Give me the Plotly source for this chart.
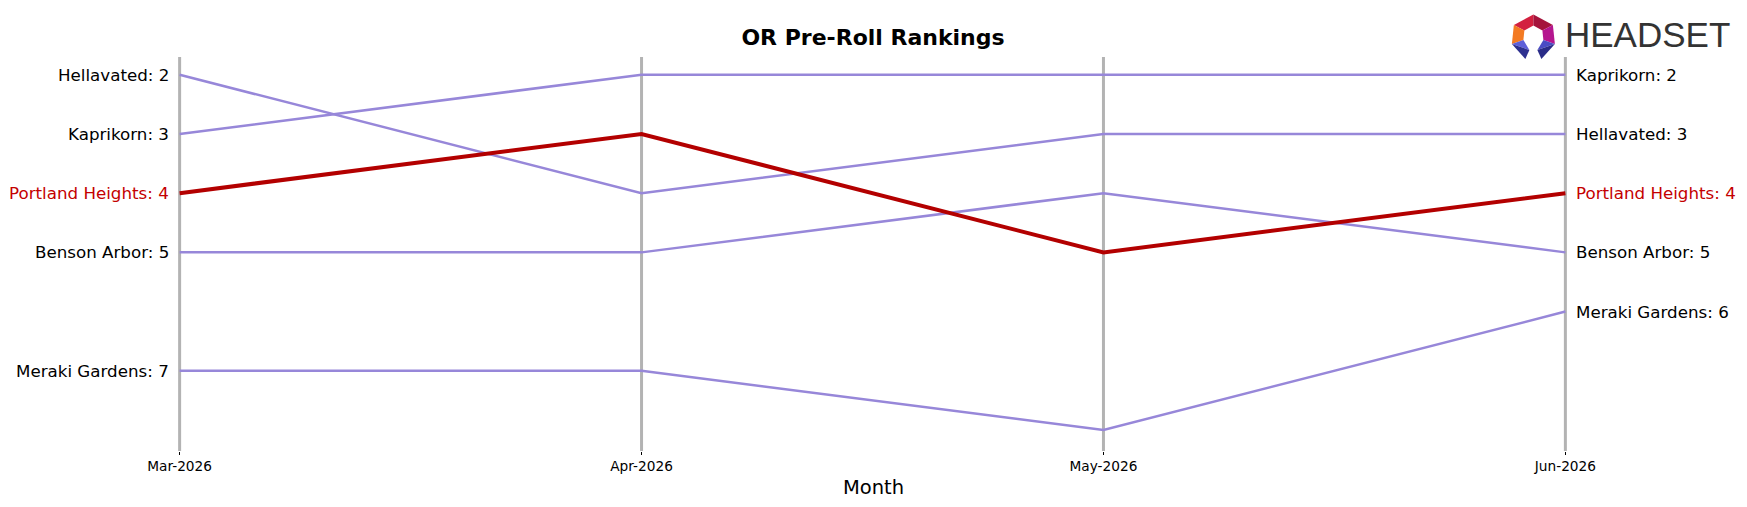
import plotly.graph_objects as go

months = ["Mar-2026", "Apr-2026", "May-2026", "Jun-2026"]
brands = ["Hellavated", "Kaprikorn", "Portland Heights", "Benson Arbor", "Meraki Gardens"]
ranks = {
    "Hellavated": [2, 4, 3, 3],
    "Kaprikorn": [3, 2, 2, 2],
    "Portland Heights": [4, 3, 5, 4],
    "Benson Arbor": [5, 5, 4, 5],
    "Meraki Gardens": [7, 7, 8, 6],
}
highlight = "Portland Heights"
title = "OR Pre-Roll Rankings"
x_title = "Month"

W, H = 1747, 507
PAD = 0.01
L, R, T, B = 175.4, 177.4, 57, 56
PW, PH = W - L - R, H - T - B

def px(x):
    return (x - L) / PW

def py(y):
    return (H - B - y) / PH

FONT = "DejaVu Sans, Verdana, sans-serif"
PURPLE = "#9787d9"
RED = "#b30000"
RED_TXT = "#c40000"

fig = go.Figure()
for b in brands:
    if b == highlight:
        continue
    fig.add_trace(go.Scatter(x=months, y=ranks[b], mode="lines",
                             line=dict(color=PURPLE, width=2.5), hoverinfo="skip", showlegend=False))
fig.add_trace(go.Scatter(x=months, y=ranks[highlight], mode="lines",
                         line=dict(color=RED, width=4), hoverinfo="skip", showlegend=False))

shapes = []
for m in months:
    shapes.append(dict(type="line", xref="x", yref="paper", x0=m, x1=m, y0=0, y1=1,
                       line=dict(color="#b3b3b3", width=3), layer="below"))

annotations = []
for b in brands:
    col = RED_TXT if b == highlight else "black"
    annotations.append(dict(x=months[0], y=ranks[b][0], xref="x", yref="y",
                            text=f"{b}: {ranks[b][0]}", showarrow=False, xanchor="right",
                            xshift=-9, font=dict(family=FONT, size=16.7, color=col)))
    annotations.append(dict(x=months[-1], y=ranks[b][-1], xref="x", yref="y",
                            text=f"{b}: {ranks[b][-1]}", showarrow=False, xanchor="left",
                            xshift=9, font=dict(family=FONT, size=16.7, color=col)))

annotations.append(dict(x=px(873), y=py(487), xref="paper", yref="paper", text=x_title,
                        showarrow=False, xanchor="center", yanchor="middle",
                        font=dict(family=FONT, size=19.5, color="black")))
annotations.append(dict(x=px(1563), y=py(35), xref="paper", yref="paper", text="HEADSET",
                        showarrow=False, xanchor="left", yanchor="middle",
                        font=dict(family="Liberation Sans, Arial, sans-serif",
                                  size=35, color="#333333")))

def poly(pts, color):
    d = "M " + " L ".join(f"{px(x):.5f},{py(y):.5f}" for x, y in pts) + " Z"
    return dict(type="path", xref="paper", yref="paper", path=d,
                fillcolor=color, line=dict(width=0), layer="above")

Tp, UL, UR, Lp, Rp = (1533, 14.5), (1513.5, 25), (1552.5, 25), (1511.5, 44), (1554.5, 44)
tp, ul, ur, lp, rp = (1533, 25.5), (1524, 30.5), (1542, 30.5), (1523, 40), (1543, 40)
shapes += [
    poly([Tp, tp, ul, UL], "#d3203f"),
    poly([Tp, UR, ur, tp], "#a5143c"),
    poly([UL, ul, lp, Lp], "#f37a22"),
    poly([UR, Rp, rp, ur], "#b5168f"),
    poly([Lp, lp, (1529, 50)], "#5d5fd8"),
    poly([Lp, (1529, 50), (1525, 59)], "#2e3190"),
    poly([Rp, rp, (1537, 50)], "#4a4cc4"),
    poly([Rp, (1537, 50), (1541, 59)], "#2a2c88"),
]

fig.update_layout(
    width=W, height=H,
    margin=dict(l=L, r=R, t=T, b=B, pad=0),
    paper_bgcolor="white", plot_bgcolor="white",
    title=dict(text=f"<b>{title}</b>", x=px(873), xref="paper", y=1 - 37 / H, yref="container",
               xanchor="center", yanchor="middle", font=dict(family=FONT, size=22, color="black")),
    xaxis=dict(type="category", range=[-PAD, 3 + PAD], showgrid=False, zeroline=False, showline=False,
               ticks="outside", ticklen=3, tickwidth=1, tickcolor="black",
               tickfont=dict(family=FONT, size=13.7, color="black"), fixedrange=True),
    yaxis=dict(range=[8.355, 1.70], showgrid=False, zeroline=False, showline=False,
               showticklabels=False, ticks="", fixedrange=True),
    shapes=shapes, annotations=annotations, showlegend=False,
)
fig.write_html("out.html", config={"displayModeBar": False})
